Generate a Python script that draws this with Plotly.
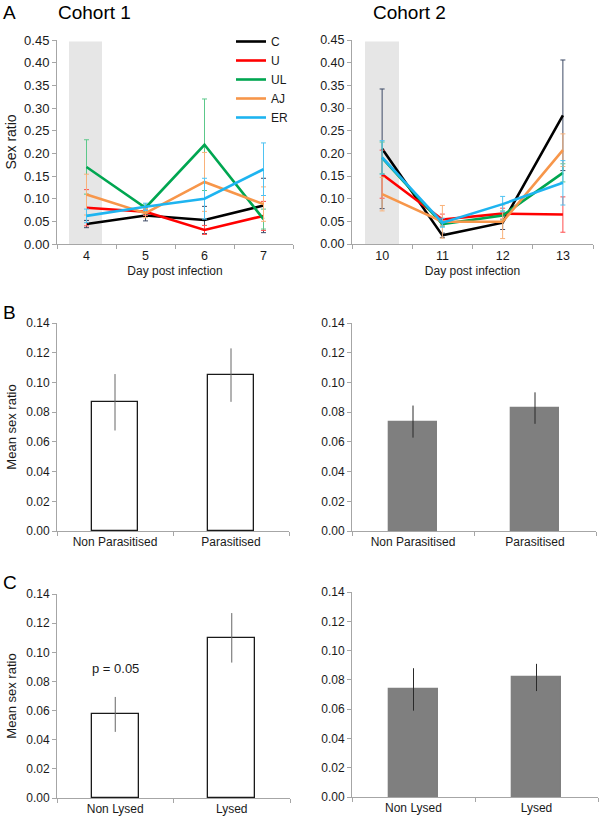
import plotly.graph_objects as go

# ---------------- data ----------------
groups = ["C", "U", "UL", "AJ", "ER"]
colors = ["#000000", "#ff0000", "#00a651", "#f7964a", "#1eb4f0"]
err_colors = ["#3d4a66", "#ff4d4d", "#5cc88a", "#f9b27a", "#4fc3f2"]

days1 = [4, 5, 6, 7]
c1_C = [0.044, 0.063, 0.053, 0.085]
c1_U = [0.080, 0.071, 0.031, 0.062]
c1_UL = [0.170, 0.080, 0.219, 0.055]
c1_AJ = [0.109, 0.068, 0.137, 0.088]
c1_ER = [0.062, 0.082, 0.100, 0.165]
c1_C_err = [0.008, 0.012, 0.030, 0.060]
c1_U_err = [0.040, 0.008, 0.010, 0.032]
c1_UL_err = [0.060, 0.008, 0.101, 0.022]
c1_AJ_err = [0.045, 0.010, 0.065, 0.038]
c1_ER_err = [0.015, 0.008, 0.045, 0.058]

days2 = [10, 11, 12, 13]
c2_C = [0.210, 0.019, 0.047, 0.284]
c2_U = [0.154, 0.054, 0.067, 0.065]
c2_UL = [0.190, 0.044, 0.063, 0.157]
c2_AJ = [0.110, 0.049, 0.049, 0.207]
c2_ER = [0.191, 0.047, 0.088, 0.135]
c2_C_err = [0.132, 0.005, 0.015, 0.122]
c2_U_err = [0.053, 0.012, 0.012, 0.039]
c2_UL_err = [0.035, 0.005, 0.010, 0.020]
c2_AJ_err = [0.037, 0.036, 0.037, 0.036]
c2_ER_err = [0.037, 0.010, 0.017, 0.049]

parasit_labels = ["Non Parasitised", "Parasitised"]
b1_means = [0.0867, 0.105]
b1_err = [0.019, 0.018]
b2_means = [0.0737, 0.0828]
b2_err = [0.0108, 0.0106]

lysed_labels = ["Non Lysed", "Lysed"]
cc1_means = [0.0574, 0.110]
cc1_err = [0.012, 0.017]
cc2_means = [0.0735, 0.0817]
cc2_err = [0.0145, 0.0093]

c1_series = [c1_C, c1_U, c1_UL, c1_AJ, c1_ER]
c1_errs = [c1_C_err, c1_U_err, c1_UL_err, c1_AJ_err, c1_ER_err]
c2_series = [c2_C, c2_U, c2_UL, c2_AJ, c2_ER]
c2_errs = [c2_C_err, c2_U_err, c2_UL_err, c2_AJ_err, c2_ER_err]

FONT = "Liberation Sans, Arial, Helvetica, sans-serif"
W, H = 600, 818

def px(x):
    return x / W

def py(y):
    return 1 - y / H

fig = go.Figure()

for i, g in enumerate(groups):
    fig.add_trace(go.Scatter(
        x=days1, y=c1_series[i], name=g, mode="lines",
        line=dict(color=colors[i], width=2.6),
        error_y=dict(type="data", array=c1_errs[i], visible=True,
                     color=err_colors[i], thickness=1, width=2.5),
        xaxis="x", yaxis="y", showlegend=True))
for i, g in enumerate(groups):
    fig.add_trace(go.Scatter(
        x=days2, y=c2_series[i], name=g, mode="lines",
        line=dict(color=colors[i], width=2.6),
        error_y=dict(type="data", array=c2_errs[i], visible=True,
                     color=err_colors[i], thickness=1, width=2.5),
        xaxis="x2", yaxis="y2", showlegend=False))

def add_bars(means, errs, labels, ax, left):
    fig.add_trace(go.Bar(
        x=[0, 1], y=means, width=0.4,
        marker=dict(color="white" if left else "#7f7f7f",
                    line=dict(color="#1a1a1a" if left else "#7f7f7f", width=1.3)),
        error_y=dict(type="data", array=errs, visible=True,
                     color="#666666" if left else "#2a2a2a", thickness=1, width=0),
        xaxis="x" + ax, yaxis="y" + ax, showlegend=False,
        hovertext=labels))

add_bars(b1_means, b1_err, parasit_labels, "3", True)
add_bars(b2_means, b2_err, parasit_labels, "4", False)
add_bars(cc1_means, cc1_err, lysed_labels, "5", True)
add_bars(cc2_means, cc2_err, lysed_labels, "6", False)

axis_common = dict(showline=True, linecolor="#a6a6a6", linewidth=1,
                   showgrid=False, zeroline=False, ticks="outside",
                   tickcolor="#a6a6a6", ticklen=4, automargin=False,
                   tickfont=dict(family=FONT, size=12, color="#1a1a1a"))

layout = dict(
    template="none",
    width=W, height=H, margin=dict(l=0, r=0, t=0, b=0, pad=0, autoexpand=False),
    paper_bgcolor="white", plot_bgcolor="white",
    font=dict(family=FONT, color="#1a1a1a"),
    showlegend=True,
    legend=dict(x=px(231), y=py(27), xanchor="left", yanchor="top",
                font=dict(family=FONT, size=12, color="#1a1a1a"),
                bgcolor="rgba(0,0,0,0)", borderwidth=0, itemwidth=30, tracegroupgap=0),
    bargap=0,
)

top_y = [py(244), py(40)]
layout["xaxis"] = dict(axis_common, domain=[px(57), px(293)], range=[3.5, 7.5],
                       tickvals=days1, ticks="", anchor="y",
                       minor=dict(tick0=3.5, dtick=1, ticks="outside", ticklen=4, tickcolor="#a6a6a6"),
                       tickfont=dict(family=FONT, size=12.5, color="#1a1a1a"),
                       title=dict(text="Day post infection", font=dict(family=FONT, size=12), standoff=4))
layout["yaxis"] = dict(axis_common, domain=top_y, range=[0, 0.4501], dtick=0.05,
                       tickformat=".2f", anchor="x",
                       tickfont=dict(family=FONT, size=13, color="#1a1a1a"),
                       title=dict(text="Sex ratio", font=dict(family=FONT, size=14), standoff=4))
layout["xaxis2"] = dict(axis_common, domain=[px(352), px(593)], range=[9.5, 13.5],
                        tickvals=days2, ticks="", anchor="y2",
                        minor=dict(tick0=9.5, dtick=1, ticks="outside", ticklen=4, tickcolor="#a6a6a6"),
                        tickfont=dict(family=FONT, size=12.5, color="#1a1a1a"),
                        title=dict(text="Day post infection", font=dict(family=FONT, size=12), standoff=4))
layout["yaxis2"] = dict(axis_common, domain=top_y, range=[0, 0.4501], dtick=0.05,
                        tickformat=".2f", anchor="x2",
                        tickfont=dict(family=FONT, size=12.5, color="#1a1a1a"))

def bar_axes(n, xdom, ydom, labels, title):
    layout["xaxis" + n] = dict(axis_common, domain=xdom, range=[-0.5, 1.5],
                               tickvals=[0, 1], ticktext=labels, ticks="",
                               anchor="y" + n,
                               minor=dict(tick0=-0.5, dtick=1, ticks="outside", ticklen=4, tickcolor="#a6a6a6"))
    ya = dict(axis_common, domain=ydom, range=[0, 0.1401], dtick=0.02,
              tickformat=".2f", anchor="x" + n)
    if title:
        ya["title"] = dict(text=title, font=dict(family=FONT, size=13), standoff=6)
    layout["yaxis" + n] = ya

bar_axes("3", [px(57), px(289)], [py(531), py(323)], parasit_labels, "Mean sex ratio")
bar_axes("4", [px(352), px(596)], [py(531), py(323)], parasit_labels, None)
bar_axes("5", [px(57), px(290)], [py(798), py(594)], lysed_labels, "Mean sex ratio")
bar_axes("6", [px(352), px(598)], [py(797), py(592)], lysed_labels, None)

layout["shapes"] = [
    dict(type="rect", xref="x", yref="y", x0=3.703, x1=4.263, y0=0, y1=0.447,
         fillcolor="#e6e6e6", line=dict(width=0), layer="below"),
    dict(type="rect", xref="x2", yref="y2", x0=9.716, x1=10.28, y0=0, y1=0.447,
         fillcolor="#e6e6e6", line=dict(width=0), layer="below"),
]

def lab(text, x, y, size, xanchor="left"):
    return dict(text=text, x=px(x), y=py(y), xref="paper", yref="paper",
                xanchor=xanchor, yanchor="middle", showarrow=False,
                font=dict(family=FONT, size=size, color="#000000"))

layout["annotations"] = [
    lab("A", 1, 13, 19),
    lab("Cohort 1", 56, 13, 19),
    lab("Cohort 2", 371, 13, 19),
    lab("B", 1, 312, 19),
    lab("C", 1, 582, 19),
    dict(text="p = 0.05", x=0, y=0.089, xref="x5", yref="y5", xanchor="center",
         yanchor="middle", showarrow=False, font=dict(family=FONT, size=13, color="#1a1a1a")),
]

fig.update_layout(**layout)

post = (
    "var d=document.documentElement,b=document.body;"
    "d.style.margin='0';d.style.padding='0';d.style.overflow='hidden';"
    "b.style.margin='0';b.style.padding='0';b.style.overflow='hidden';"
)
fig.write_html("out.html", config={"displayModeBar": False}, post_script=post)
